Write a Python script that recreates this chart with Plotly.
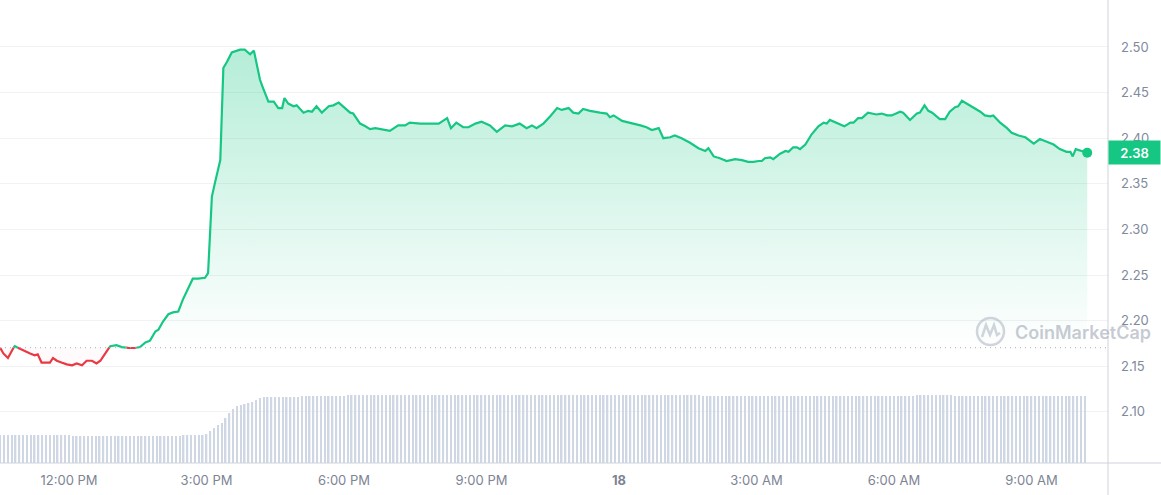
import plotly.graph_objects as go
import pandas as pd

# ---------------- data ----------------
DATE0 = "2024-06-17"
times = [
    "10:30", "10:34", "10:40", "10:45", "10:49", "10:56", "11:02", "11:09", "11:15", "11:19",
    "11:24", "11:35", "11:39", "11:44", "11:50", "11:57", "12:04", "12:10", "12:17", "12:23",
    "12:30", "12:36", "12:41", "12:47", "12:54", "13:02", "13:09", "13:18", "13:26", "13:33",
    "13:40", "13:46", "13:53", "13:57", "14:03", "14:10", "14:16", "14:23", "14:29", "14:36",
    "14:42", "14:49", "14:58", "15:02", "15:07", "15:11", "15:18", "15:22", "15:27", "15:33",
    "15:37", "15:44", "15:50", "15:57", "16:02", "16:06", "16:10", "16:14", "16:21", "16:28",
    "16:34", "16:39", "16:42", "16:47", "16:54", "16:58", "17:07", "17:13", "17:18", "17:24",
    "17:31", "17:40", "17:46", "17:53", "17:59", "18:08", "18:12", "18:21", "18:28", "18:34",
    "18:41", "18:47", "19:00", "19:11", "19:20", "19:26", "19:40", "19:53", "20:04", "20:15",
    "20:20", "20:27", "20:36", "20:43", "20:52", "21:00", "21:11", "21:20", "21:31", "21:40",
    "21:50", "21:59", "22:06", "22:12", "22:21", "22:30", "22:39", "22:45", "22:54", "23:00",
    "23:07", "23:13", "23:22", "23:35", "23:44", "23:48", "23:53", "00:04", "00:15", "00:28",
    "00:36", "00:43", "00:52", "00:58", "01:07", "01:13", "01:22", "01:33", "01:44", "01:53",
    "01:57", "02:04", "02:12", "02:21", "02:32", "02:41", "02:49", "02:56", "03:03", "03:07",
    "03:11", "03:18", "03:22", "03:31", "03:38", "03:42", "03:48", "03:53", "03:57", "04:04",
    "04:12", "04:21", "04:28", "04:32", "04:36", "04:45", "04:55", "05:03", "05:07", "05:13",
    "05:18", "05:26", "05:37", "05:44", "05:51", "05:57", "06:08", "06:12", "06:21", "06:30",
    "06:34", "06:40", "06:45", "06:50", "07:00", "07:07", "07:13", "07:20", "07:24", "07:29",
    "07:35", "07:44", "07:53", "07:59", "08:06", "08:10", "08:19", "08:28", "08:34", "08:43",
    "08:52", "09:03", "09:11", "09:20", "09:29", "09:37", "09:46", "09:51", "09:54", "09:58",
    "10:06", "10:13",
]
prices = [
    2.170, 2.164, 2.159, 2.168, 2.172, 2.169, 2.167, 2.164, 2.162, 2.163,
    2.154, 2.154, 2.159, 2.156, 2.154, 2.152, 2.151, 2.153, 2.151, 2.156,
    2.156, 2.153, 2.156, 2.164, 2.172, 2.173, 2.171, 2.170, 2.170, 2.171,
    2.176, 2.178, 2.188, 2.190, 2.199, 2.207, 2.209, 2.210, 2.223, 2.235,
    2.246, 2.246, 2.247, 2.252, 2.336, 2.351, 2.376, 2.477, 2.484, 2.494,
    2.495, 2.497, 2.497, 2.492, 2.496, 2.478, 2.464, 2.455, 2.440, 2.440,
    2.433, 2.433, 2.444, 2.438, 2.435, 2.436, 2.428, 2.430, 2.429, 2.435,
    2.428, 2.435, 2.436, 2.439, 2.435, 2.428, 2.427, 2.416, 2.413, 2.410,
    2.411, 2.410, 2.408, 2.414, 2.414, 2.417, 2.416, 2.416, 2.416, 2.422,
    2.411, 2.417, 2.412, 2.412, 2.416, 2.418, 2.414, 2.407, 2.414, 2.413,
    2.416, 2.411, 2.414, 2.411, 2.416, 2.424, 2.433, 2.431, 2.433, 2.428,
    2.427, 2.432, 2.430, 2.428, 2.427, 2.423, 2.425, 2.419, 2.417, 2.414,
    2.412, 2.409, 2.411, 2.400, 2.401, 2.403, 2.400, 2.395, 2.389, 2.386,
    2.389, 2.380, 2.378, 2.375, 2.377, 2.376, 2.374, 2.374, 2.375, 2.375,
    2.378, 2.379, 2.377, 2.383, 2.386, 2.385, 2.390, 2.390, 2.388, 2.393,
    2.404, 2.413, 2.417, 2.416, 2.420, 2.417, 2.413, 2.417, 2.417, 2.422,
    2.422, 2.428, 2.426, 2.427, 2.425, 2.425, 2.429, 2.428, 2.420, 2.427,
    2.428, 2.436, 2.430, 2.428, 2.421, 2.421, 2.429, 2.434, 2.435, 2.441,
    2.438, 2.434, 2.429, 2.425, 2.424, 2.425, 2.417, 2.411, 2.406, 2.403,
    2.401, 2.394, 2.399, 2.396, 2.393, 2.388, 2.385, 2.385, 2.380, 2.388,
    2.386, 2.384,
]
open_price = 2.1703

volume_start = "2024-06-17 10:30"
volume_step_min = 5
volumes = [  # millions
    14.0, 14.0, 14.0, 14.0, 14.0, 14.0, 14.0, 14.0, 14.0, 14.0,
    14.0, 14.0, 14.0, 14.0, 14.0, 14.0, 14.0, 14.0, 14.0, 13.5,
    13.5, 13.5, 13.5, 13.5, 13.5, 13.5, 13.5, 13.5, 13.5, 13.5,
    13.5, 13.5, 13.5, 13.5, 13.5, 13.5, 13.5, 13.5, 13.5, 13.5,
    13.5, 13.5, 13.5, 13.5, 13.5, 13.5, 13.5, 13.5, 14.0, 14.0,
    14.0, 14.0, 14.0, 14.0, 14.5, 16.0, 17.5, 19.0, 20.0, 22.5,
    25.0, 27.0, 28.5, 29.0, 29.5, 30.0, 30.5, 31.5, 32.5, 33.0,
    33.0, 33.0, 33.0, 33.0, 33.0, 33.0, 33.0, 33.0, 33.0, 33.5,
    33.5, 33.5, 33.5, 33.5, 33.5, 33.5, 33.5, 33.5, 33.5, 33.5,
    33.5, 34.0, 34.0, 34.0, 34.0, 34.0, 34.0, 34.0, 34.0, 34.0,
    34.0, 34.0, 34.0, 34.0, 34.0, 34.0, 34.0, 34.0, 34.0, 34.0,
    34.0, 34.0, 34.0, 34.0, 34.0, 34.0, 34.0, 34.0, 34.0, 34.0,
    34.0, 34.0, 34.0, 34.0, 34.0, 34.0, 34.0, 34.0, 34.0, 34.0,
    34.0, 34.0, 34.0, 34.0, 34.0, 34.0, 34.0, 34.0, 34.0, 34.0,
    34.0, 34.0, 34.0, 34.0, 34.0, 34.0, 34.0, 34.0, 34.0, 34.0,
    34.0, 34.0, 34.0, 34.0, 34.0, 34.0, 34.0, 34.0, 34.0, 34.0,
    34.0, 34.0, 34.0, 34.0, 34.0, 34.0, 34.0, 34.0, 34.0, 34.0,
    34.0, 34.0, 34.0, 34.0, 34.0, 34.0, 34.0, 34.0, 34.0, 34.0,
    34.0, 34.0, 34.0, 34.0, 33.5, 33.5, 33.5, 33.5, 33.5, 33.5,
    33.5, 33.5, 33.5, 33.5, 33.5, 33.5, 33.5, 33.5, 33.5, 33.5,
    33.5, 33.5, 33.5, 33.5, 33.5, 33.5, 33.5, 33.5, 33.5, 33.5,
    33.5, 33.5, 33.5, 33.5, 33.5, 33.5, 33.5, 33.5, 33.5, 33.5,
    33.5, 33.5, 33.5, 33.5, 33.5, 33.5, 33.5, 33.5, 33.5, 33.5,
    33.5, 33.5, 33.5, 33.5, 33.5, 33.5, 33.5, 33.5, 33.5, 33.5,
    34.0, 34.0, 34.0, 34.0, 34.0, 34.0, 34.0, 34.0, 34.0, 34.0,
    33.5, 33.5, 33.5, 33.5, 33.5, 33.5, 33.5, 33.5, 33.5, 33.5,
    33.5, 33.5, 33.5, 33.5, 33.5, 33.5, 33.5, 33.5, 33.5, 33.5,
    33.5, 33.5, 33.5, 33.5, 33.5, 33.5, 33.5, 33.5, 33.5, 33.5,
    33.5, 33.5, 33.5, 33.5, 33.5,
]

y_ticks = [2.10, 2.15, 2.20, 2.25, 2.30, 2.35, 2.40, 2.45, 2.50]
x_tick_vals = ["2024-06-17 12:00", "2024-06-17 15:00", "2024-06-17 18:00", "2024-06-17 21:00",
               "2024-06-18 00:00", "2024-06-18 03:00", "2024-06-18 06:00", "2024-06-18 09:00"]
x_tick_text = ["12:00 PM", "3:00 PM", "6:00 PM", "9:00 PM", "<b>18</b>", "3:00 AM", "6:00 AM", "9:00 AM"]
x_range = ["2024-06-17 10:29:36", "2024-06-18 10:40:12"]
y_range = [2.0439, 2.5515]
vol_range = [0, 231.5]

GREEN = "#16c784"
RED = "#ea3943"
FONT = "Inter"

assert len(times) == len(prices)

# ---------------- build timestamps ----------------
ts = []
day = pd.Timestamp(DATE0)
prev = None
for t in times:
    hh, mm = map(int, t.split(":"))
    if prev is not None and (hh, mm) < prev:
        day += pd.Timedelta(days=1)
    prev = (hh, mm)
    ts.append(day + pd.Timedelta(hours=hh, minutes=mm))

# insert crossing points with the opening-price baseline
aug_t, aug_p = [ts[0]], [prices[0]]
for i in range(1, len(ts)):
    p0, p1 = prices[i - 1], prices[i]
    if (p0 - open_price) * (p1 - open_price) < 0:
        f = (open_price - p0) / (p1 - p0)
        aug_t.append(ts[i - 1] + (ts[i] - ts[i - 1]) * f)
        aug_p.append(open_price)
    aug_t.append(ts[i])
    aug_p.append(p1)

green_line = [p if p >= open_price else None for p in aug_p]
red_line = [p if p <= open_price else None for p in aug_p]
green_fill = [max(p, open_price) for p in aug_p]
red_fill = [min(p, open_price) for p in aug_p]
base = [open_price] * len(aug_p)

vol_t = pd.date_range(volume_start, periods=len(volumes), freq=f"{volume_step_min}min")

fig = go.Figure()

fig.add_trace(go.Bar(x=vol_t, y=volumes, yaxis="y2", marker=dict(color="#cfd6e4", line=dict(width=0)),
                     hoverinfo="skip"))

fig.add_trace(go.Scatter(x=aug_t, y=base, mode="lines", line=dict(width=0), hoverinfo="skip"))
fig.add_trace(go.Scatter(x=aug_t, y=green_fill, mode="lines", line=dict(width=0), fill="tonexty",
                         fillgradient=dict(type="vertical", start=open_price, stop=2.50,
                                           colorscale=[[0, "rgba(22,199,132,0.0)"],
                                                       [1, "rgba(22,199,132,0.32)"]]),
                         hoverinfo="skip"))
fig.add_trace(go.Scatter(x=aug_t, y=base, mode="lines", line=dict(width=0), hoverinfo="skip"))
fig.add_trace(go.Scatter(x=aug_t, y=red_fill, mode="lines", line=dict(width=0), fill="tonexty",
                         fillcolor="rgba(234,57,67,0.025)", hoverinfo="skip"))

fig.add_trace(go.Scatter(x=aug_t, y=green_line, mode="lines", line=dict(color=GREEN, width=2.2),
                         connectgaps=False))
fig.add_trace(go.Scatter(x=aug_t, y=red_line, mode="lines", line=dict(color=RED, width=2.2),
                         connectgaps=False))
fig.add_trace(go.Scatter(x=[ts[-1]], y=[prices[-1]], mode="markers",
                         marker=dict(color=GREEN, size=10)))

W, H = 1161, 495
ML, MR, MT, MB = 0, 53, 0, 32
PW, PH = W - ML - MR, H - MT - MB


def px(x):
    return x / PW


def py(y):
    return 1 - y / PH


shapes = [
    # opening price dotted line
    dict(type="line", xref="paper", yref="y", x0=0, x1=1, y0=open_price, y1=open_price,
         line=dict(color="#a9aeb8", width=1, dash="1px,4px")),
    # bottom axis line
    dict(type="line", xref="paper", yref="paper", x0=0, x1=W / PW, y0=0, y1=0,
         line=dict(color="#cfd3d9", width=1)),
    # right axis line
    dict(type="line", xref="paper", yref="paper", x0=1, x1=1, y0=-MB / PH, y1=1,
         line=dict(color="#cfd3d9", width=1)),
    # watermark logo
    dict(type="circle", xref="paper", yref="paper", x0=px(977), x1=px(1004), y0=py(345), y1=py(318),
         line=dict(color="rgba(170,178,192,0.55)", width=2.5)),
    dict(type="path", xref="paper", yref="paper",
         path=f"M {px(982)},{py(337)} L {px(986)},{py(325)} L {px(990)},{py(335)} L {px(994)},{py(325)} "
              f"L {px(997)},{py(335)} L {px(1000)},{py(333)}",
         line=dict(color="rgba(170,178,192,0.55)", width=2.5)),
]

annotations = [
    dict(xref="paper", yref="y", x=1.0, y=prices[-1], xanchor="left", yanchor="middle",
         text=f"{prices[-1]:.2f}", showarrow=False, bgcolor=GREEN, width=47, height=19, borderpad=2,
         font=dict(family=FONT, size=13, color="white", weight=600)),
    dict(xref="paper", yref="paper", x=px(1013), y=py(332), xanchor="left", yanchor="middle",
         text="CoinMarketCap", showarrow=False,
         font=dict(family=FONT, size=18, color="rgba(160,168,182,0.6)", weight=600)),
]

fig.update_layout(
    width=W, height=H,
    margin=dict(l=ML, r=MR, t=MT, b=MB, pad=0),
    paper_bgcolor="white", plot_bgcolor="white",
    showlegend=False, bargap=0.6,
    xaxis=dict(type="date", range=x_range, tickmode="array", tickvals=x_tick_vals, ticktext=x_tick_text,
               showgrid=False, zeroline=False, showline=False, ticks="",
               tickfont=dict(family=FONT, size=13, color="#7d8494"), ticklabelstandoff=8,
               automargin=False),
    yaxis=dict(side="right", range=y_range, tickmode="array", tickvals=y_ticks,
               ticktext=[f"{v:.2f}" for v in y_ticks],
               showgrid=True, gridcolor="#f1f2f4", gridwidth=1, zeroline=False, showline=False,
               ticks="", tickfont=dict(family=FONT, size=13, color="#808a9d"), ticklabelstandoff=12,
               automargin=False),
    yaxis2=dict(overlaying="y", range=vol_range, visible=False),
    shapes=shapes,
    annotations=annotations,
    hovermode=False,
)

fig.write_html("out.html", config={"displayModeBar": False},
               post_script="document.body.style.margin='0';")
